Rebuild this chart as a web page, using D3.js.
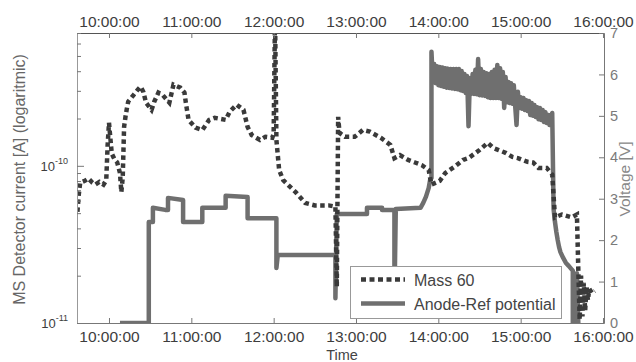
<!DOCTYPE html>
<html><head><meta charset="utf-8">
<script src="https://cdn.jsdelivr.net/npm/d3@7"></script>
<style>
html,body{margin:0;padding:0;background:#fff;}
svg{display:block;font-family:"Liberation Sans",Arial,Helvetica,sans-serif;}
</style></head><body>
<svg id="chart" width="636" height="362"></svg>
<script>
// ---------------- DATA ----------------
const seriesNames = ["Mass 60", "Anode-Ref potential"];
const hourTicks = ["10:00","11:00","12:00","13:00","14:00","15:00","16:00"];
const timeDomain = ["09:36:41", "16:00:44"];
const currentDomain = [1e-11, 7e-10];
const currentTicks = [1e-11,2e-11,3e-11,4e-11,5e-11,6e-11,7e-11,8e-11,9e-11,1e-10,2e-10,3e-10,4e-10,5e-10,6e-10,7e-10];
const currentLabelTicks = [1e-11, 1e-10];
const voltDomain = [0, 7];
const voltTicks = [0,1,2,3,4,5,6,7];

const massTimes = ["09:37","09:38","09:39","09:42","09:45","09:48","09:50","09:53","09:56","09:58",
 "09:59","10:00","10:01","10:02","10:04","10:06","10:08","10:09","10:10","10:11",
 "10:12","10:13","10:14","10:18","10:21","10:23","10:25","10:27","10:31","10:33",
 "10:36","10:39","10:44","10:47","10:52","10:55","10:56","10:58","11:03","11:08",
 "11:13","11:17","11:25","11:28","11:33","11:38","11:41","11:44","11:50","11:54",
 "11:59","12:00","12:01","12:02","12:04","12:07","12:16","12:23","12:30","12:40",
 "12:45","12:46","12:47","12:48","12:52","12:59","13:05","13:10","13:18","13:25",
 "13:28","13:32","13:38","13:43","13:48","13:53","13:54","13:55","14:01","14:05",
 "14:12","14:18","14:22","14:30","14:36","14:40","14:44","14:49","14:54","14:58",
 "15:05","15:09","15:13","15:19","15:23","15:25","15:30","15:37","15:41","15:42",
 "15:43","15:44","15:45","15:46","15:47","15:48","15:49","15:50","15:52","15:54"];
const massValues = [5.1e-11,6.6e-11,7.8e-11,8.0e-11,8.3e-11,7.8e-11,7.6e-11,7.9e-11,7.6e-11,8.1e-11,
 1.35e-10,1.88e-10,1.5e-10,1.2e-10,1.1e-10,1.05e-10,9.0e-11,6.8e-11,8.4e-11,1.77e-10,
 2.05e-10,2.31e-10,2.56e-10,2.83e-10,3.05e-10,3.19e-10,2.96e-10,2.52e-10,2.27e-10,2.56e-10,
 2.92e-10,2.83e-10,2.52e-10,3.28e-10,3.14e-10,2.92e-10,2.52e-10,1.96e-10,1.75e-10,1.69e-10,
 1.96e-10,2.02e-10,1.96e-10,2.21e-10,2.45e-10,2.27e-10,1.77e-10,1.57e-10,1.46e-10,1.53e-10,
 1.51e-10,1.6e-10,9.0e-10,1.46e-10,9.4e-11,8.1e-11,6.8e-11,5.8e-11,5.6e-11,5.6e-11,
 5.5e-11,1.7e-11,2.05e-10,1.62e-10,1.53e-10,1.53e-10,1.69e-10,1.65e-10,1.51e-10,1.36e-10,
 1.12e-10,1.17e-10,1.09e-10,1.05e-10,1.01e-10,9.4e-11,8.4e-11,7.6e-11,8.0e-11,9.0e-11,
 9.9e-11,1.09e-10,1.12e-10,1.26e-10,1.40e-10,1.30e-10,1.26e-10,1.21e-10,1.14e-10,1.12e-10,
 1.06e-10,1.05e-10,9.7e-11,9.7e-11,8.8e-11,4.7e-11,4.9e-11,4.7e-11,4.9e-11,2.2e-11,
 1.05e-11,2.0e-11,1.1e-11,1.8e-11,1.2e-11,1.7e-11,1.4e-11,1.65e-11,1.55e-11,1.6e-11];

const anodeTimes = ["10:08","10:29","10:29","10:32","10:32","10:41","10:43","10:43","10:54","10:54",
 "11:08","11:08","11:25","11:25","11:41","11:41","12:02","12:02","12:03","12:45",
 "12:45","12:46","13:08","13:08","13:19","13:19","13:28","13:28","13:29","13:47",
 "13:49","13:51","13:53","13:54","13:55","13:55",
 "13:56","13:57","13:58","13:59","14:00","14:01","14:02","14:03","14:04","14:05",
 "14:06","14:07","14:08","14:09","14:10","14:11","14:12","14:13","14:14","14:15",
 "14:16","14:17","14:18","14:19","14:20","14:21","14:22","14:23","14:24","14:25",
 "14:26","14:27","14:28","14:29","14:30","14:31","14:32","14:33","14:34","14:35",
 "14:36","14:37","14:38","14:39","14:40","14:41","14:42","14:43","14:44","14:45",
 "14:46","14:47","14:48","14:49","14:50","14:51","14:52","14:53","14:54","14:55",
 "14:56","14:57","14:58","14:59","15:00","15:01","15:02","15:03","15:04","15:05",
 "15:06","15:07","15:08","15:09","15:10","15:11","15:12","15:13","15:14","15:15",
 "15:16","15:17","15:18","15:19","15:20","15:21","15:22","15:23",
 "15:24","15:25","15:26","15:27","15:28","15:29","15:31","15:33","15:35","15:37",
 "15:38","15:38","15:39","15:40","15:41","15:42"];
const anodeVolts = [0,0,2.44,2.44,2.78,2.73,2.73,3.02,2.97,2.44,
 2.44,2.78,2.78,3.07,3.04,2.53,2.53,1.33,1.64,1.64,
 0.60,2.63,2.63,2.78,2.78,2.73,2.73,0.5,2.75,2.78,
 2.90,3.05,3.26,3.45,3.5,6.55,
 5.82,6.25,5.79,6.20,5.74,6.18,5.72,6.17,5.70,6.15,
 5.68,6.14,5.67,6.13,5.66,6.13,5.65,6.13,5.64,6.13,
 5.62,6.08,5.60,6.01,5.55,5.96,4.75,5.91,5.53,6.01,
 5.53,6.11,5.52,6.37,5.50,6.13,5.49,6.06,5.48,6.03,
 5.45,6.01,5.43,6.06,5.43,6.11,5.43,6.23,5.43,6.15,
 5.41,6.06,5.19,5.94,5.33,5.82,5.31,5.79,5.29,5.74,
 5.24,4.78,5.58,5.19,5.45,5.17,5.43,5.14,5.38,5.12,
 5.36,5.02,5.31,5.00,5.26,4.97,5.21,4.92,5.19,4.90,
 5.14,4.85,5.09,4.83,5.02,4.78,4.97,5.07,
 2.75,2.44,2.20,2.00,1.83,1.71,1.57,1.45,1.38,1.30,
 1.26,0,1.2,0,1.2,0];

// ---------------- CHART ----------------
const W = 636, H = 362;
const m = {left: 77, top: 33, right: 604, bottom: 323};
const parseHM = d3.timeParse("%H:%M");
const parseHMS = d3.timeParse("%H:%M:%S");
const fmt = d3.timeFormat("%H:%M:%S");

const x = d3.scaleTime().domain(timeDomain.map(parseHMS)).range([m.left, m.right]);
const yL = d3.scaleLog().domain(currentDomain).range([m.bottom, m.top]);
const yR = d3.scaleLinear().domain(voltDomain).range([m.bottom, m.top]);

const massData = massTimes.map((t,i)=>({t: parseHM(t), v: massValues[i]}));
const anodeData = anodeTimes.map((t,i)=>({t: parseHM(t), v: anodeVolts[i]}));

const svg = d3.select("#chart");
svg.append("rect").attr("width", W).attr("height", H).attr("fill", "#fff");

svg.append("defs").append("clipPath").attr("id","plotclip")
  .append("rect").attr("x", m.left).attr("y", m.top)
  .attr("width", m.right - m.left).attr("height", m.bottom - m.top);

const plot = svg.append("g").attr("clip-path","url(#plotclip)");

const ANODE_COLOR = "#6f6f6f", MASS_COLOR = "#3a3a3a";

plot.append("path").datum(anodeData)
  .attr("d", d3.line().x(d=>x(d.t)).y(d=>yR(d.v)))
  .attr("fill","none").attr("stroke",ANODE_COLOR).attr("stroke-width",4.5)
  .attr("stroke-linejoin","round");

plot.append("path").datum(massData)
  .attr("d", d3.line().x(d=>x(d.t)).y(d=>yL(d.v)))
  .attr("fill","none").attr("stroke",MASS_COLOR).attr("stroke-width",4.5)
  .attr("stroke-dasharray","4.5,3.5");

// Axes
const hourDates = hourTicks.map(parseHM);
const AX = "#777";
function styleAxis(g, textColor, size) {
  g.select(".domain").attr("stroke", AX);
  g.selectAll(".tick line").attr("stroke", AX);
  g.selectAll(".tick text").attr("fill", textColor).style("font-size", size + "px")
    .style("font-family", '"Liberation Sans", Arial, sans-serif');
}

const gB = svg.append("g").attr("transform", `translate(0,${m.bottom})`)
  .call(d3.axisBottom(x).tickValues(hourDates).tickFormat(fmt).tickSizeInner(-5).tickSizeOuter(0).tickPadding(8));
styleAxis(gB, "#3d3d3d", 15.5);

const gT = svg.append("g").attr("transform", `translate(0,${m.top})`)
  .call(d3.axisTop(x).tickValues(hourDates).tickFormat(fmt).tickSizeInner(-5).tickSizeOuter(0).tickPadding(6));
styleAxis(gT, "#3d3d3d", 15.5);
gT.select(".domain").attr("stroke", "#555");

const gL = svg.append("g").attr("transform", `translate(${m.left},0)`)
  .call(d3.axisLeft(yL).tickValues(currentTicks).tickFormat("").tickSizeInner(-4).tickSizeOuter(0));
styleAxis(gL, "#3d3d3d", 13);
gL.select(".domain").attr("stroke", "#999");
gL.selectAll(".tick").filter(d => currentLabelTicks.includes(d)).each(function(d){
  const g = d3.select(this);
  g.select("line").attr("x2", 7);
  const t = g.append("text").attr("x", -9).attr("y", 4.5).attr("text-anchor","end")
    .attr("fill","#3d3d3d").style("font-size","13px");
  t.append("tspan").text("10");
  t.append("tspan").attr("dy", -7).style("font-size","9px").text("-" + Math.round(-Math.log10(d)));
});

const gR = svg.append("g").attr("transform", `translate(${m.right},0)`)
  .call(d3.axisRight(yR).tickValues(voltTicks).tickFormat(d3.format("d")).tickSizeInner(-5).tickSizeOuter(0).tickPadding(6));
styleAxis(gR, "#7a7a7a", 14.5);

// Titles
svg.append("text").attr("x", 342).attr("y", 360).attr("text-anchor","middle")
  .attr("fill","#444").style("font-size","14.5px").text("Time");
svg.append("text").attr("transform","translate(25,179.5) rotate(-90)").attr("text-anchor","middle")
  .attr("fill","#666").style("font-size","16px").text("MS Detector current [A] (logaritmic)");
svg.append("text").attr("transform","translate(630,179) rotate(-90)").attr("text-anchor","middle")
  .attr("fill","#888").style("font-size","15.5px").text("Voltage [V]");

// Legend
const lg = svg.append("g");
lg.append("rect").attr("x",350.5).attr("y",266.5).attr("width",211).attr("height",52)
  .attr("fill","#fff").attr("stroke","#999").attr("stroke-width",1);
lg.append("line").attr("x1",361).attr("x2",405).attr("y1",279.5).attr("y2",279.5)
  .attr("stroke",MASS_COLOR).attr("stroke-width",4.5).attr("stroke-dasharray","5,3.5");
lg.append("line").attr("x1",361).attr("x2",405).attr("y1",303.5).attr("y2",303.5)
  .attr("stroke",ANODE_COLOR).attr("stroke-width",4.5);
lg.append("text").attr("x",414).attr("y",286).attr("fill","#444").style("font-size","16px").text(seriesNames[0]);
lg.append("text").attr("x",414).attr("y",310).attr("fill","#444").style("font-size","16px").text(seriesNames[1]);
</script>
</body></html>
